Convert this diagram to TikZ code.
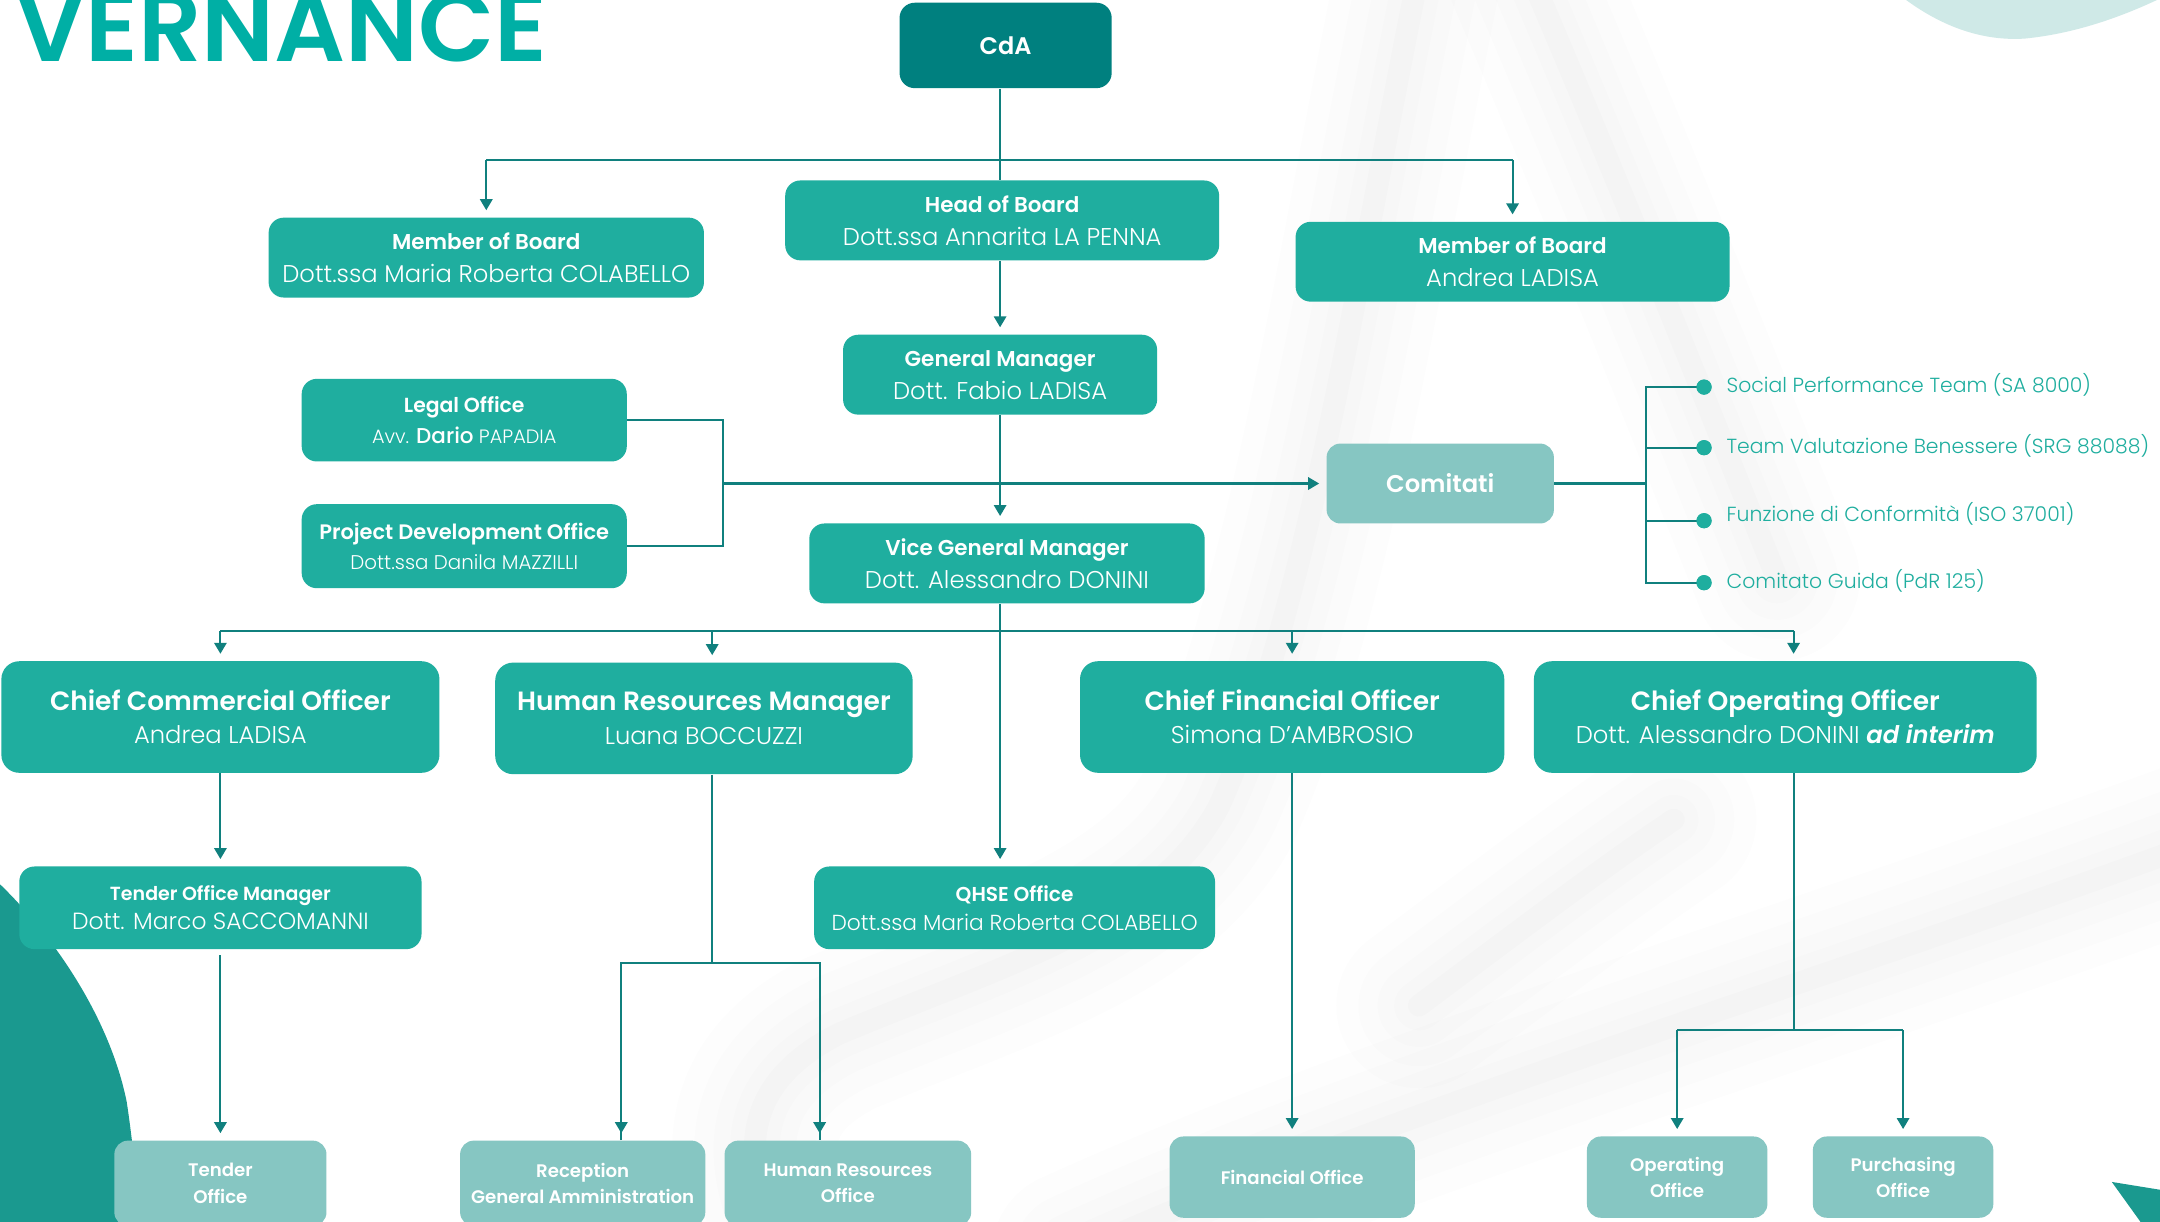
\documentclass[tikz,border=0pt]{standalone}
\usepackage{fontspec}
\IfFontExistsTF{Poppins SemiBold}{%
  \setmainfont{Poppins}[BoldFont={Poppins SemiBold},BoldItalicFont={Poppins SemiBold Italic}]}{%
  \setmainfont{Poppins}}
\IfFontExistsTF{Poppins Light}{\newfontfamily\lightfont{Poppins Light}}{\newcommand\lightfont{}}
\IfFontExistsTF{Poppins Medium}{\newfontfamily\mediumfont{Poppins Medium}}{\newcommand\mediumfont{}}
\usetikzlibrary{arrows.meta,calc}
\definecolor{tealdark}{HTML}{00807F}
\definecolor{tealbox}{HTML}{1FAE9F}
\definecolor{teallight}{HTML}{86C6C2}
\definecolor{tealline}{HTML}{10807E}
\definecolor{titlecol}{HTML}{00AFA5}
\definecolor{blobcol}{HTML}{CFE9E7}
\definecolor{blobdark}{HTML}{1A998F}
\newcommand\Tt[2]{{\fontsize{#1}{11pt}\selectfont\bfseries #2}}
\newcommand\Nn[2]{{\lightfont\fontsize{#1}{11pt}\selectfont #2}}
\begin{document}
\begin{tikzpicture}[x=0.5pt,y=-0.5pt,
  ln/.style={draw=tealline, line width=0.75pt},
  arr/.style={ln, -{Triangle[width=4.5pt,length=4pt]}, shorten >=2.5pt},
  sz/.style 2 args={minimum width=#1*0.5pt, minimum height=#2*0.5pt},
  b1/.style={fill=tealbox, rounded corners=5.5pt, text=white, align=center, inner sep=0pt},
  bl/.style={fill=teallight, rounded corners=5pt, text=white, align=center, inner sep=0pt},
  dot/.style={circle, fill=tealbox, inner sep=0pt, minimum size=5.5pt},
  lst/.style={anchor=west, text=tealbox, inner sep=0pt, font=\lightfont\fontsize{7.4}{9}\selectfont},
  swoosh/.style={black, line cap=round, line join=round},
]
% page
\fill[white] (0,0) rectangle (1568,887);
\useasboundingbox (0,0) rectangle (1568,887);
% background decorations
\begin{scope}
\clip (0,0) rectangle (1568,887);
\foreach \w/\o in {60/0.006,44/0.007,30/0.008,18/0.009,8/0.010}{
  \draw[swoosh, line width=\w pt, opacity=\o]
    (1030,-20) .. controls (985,200) and (950,440) .. (885,585)
    .. controls (840,670) and (730,700) .. (610,750)
    .. controls (530,790) and (540,850) .. (570,910);
  \draw[swoosh, line width=\w pt, opacity=\o]
    (1110,-20) .. controls (1170,120) and (1230,270) .. (1290,420);
  \draw[swoosh, line width=\w pt, opacity=\o]
    (780,910) .. controls (1000,810) and (1300,720) .. (1600,610);
  \draw[swoosh, line width=\w pt, opacity=\o]
    (1030,730) .. controls (1110,670) and (1170,625) .. (1215,595);
}
\fill[blobcol] (1381,-2) .. controls (1410,20) and (1440,30) .. (1470,28)
  .. controls (1510,24) and (1545,10) .. (1570,-2) -- cycle;
\fill[blobdark] (-2,640) .. controls (40,680) and (80,740) .. (92,800)
  .. controls (98,840) and (100,870) .. (100,890) -- (-2,890) -- cycle;
\fill[blobdark] (1533,858) -- (1570,864) -- (1570,890) -- (1556,890) -- cycle;
\end{scope}

% title
\node[anchor=base east, text=titlecol, inner sep=0pt,
  font=\fontsize{36}{36}\selectfont\bfseries] (title) at (398,45) {VERNANCE};

% nodes
\node[b1, fill=tealdark, sz={154}{62}] (cda) at (730,33) {\Tt{8.7}{CdA}};
\node[b1, sz={315}{58}] (hob) at (727.5,160)
  {\Tt{7.8}{Head of Board}\\\Nn{8.8}{Dott.ssa Annarita LA PENNA}};
\node[b1, sz={316}{58}] (mobL) at (353,187)
  {\Tt{7.8}{Member of Board}\\\Nn{8.8}{Dott.ssa Maria Roberta COLABELLO}};
\node[b1, sz={315}{58}] (mobR) at (1098,190)
  {\Tt{7.8}{Member of Board}\\\Nn{8.8}{Andrea LADISA}};
\node[b1, sz={228}{58}] (gm) at (726,272)
  {\Tt{7.8}{General Manager}\\\Nn{8.8}{Dott. Fabio LADISA}};
\node[b1, sz={236}{60}] (legal) at (337,305)
  {\Tt{7.4}{Legal Office}\\[-1pt]\Nn{7}{Avv. }{\mediumfont\fontsize{7.8}{10pt}\selectfont Dario}\Nn{7}{\ PAPADIA}};
\node[b1, sz={236}{61}] (pdo) at (337,396.5)
  {\Tt{7.6}{Project Development Office}\\[-1pt]\Nn{7.2}{Dott.ssa Danila MAZZILLI}};
\node[bl, sz={165}{58}] (comitati) at (1045.5,351) {\Tt{8.8}{Comitati}};
\node[b1, sz={287}{58}] (vgm) at (731,409)
  {\Tt{7.8}{Vice General Manager}\\\Nn{8.8}{Dott. Alessandro DONINI}};

\node[b1, rounded corners=6.5pt, sz={318}{81}] (cco) at (160,520.5)
  {\Tt{9.6}{Chief Commercial Officer}\\\Nn{8.8}{Andrea LADISA}};
\node[b1, rounded corners=6.5pt, sz={303}{81}] (hrm) at (511,521.5)
  {\Tt{9.6}{Human Resources Manager}\\\Nn{8.8}{Luana BOCCUZZI}};
\node[b1, rounded corners=6.5pt, sz={308}{81}] (cfo) at (938,520.5)
  {\Tt{9.6}{Chief Financial Officer}\\\Nn{8.8}{Simona D’AMBROSIO}};
\node[b1, rounded corners=6.5pt, sz={365}{81}] (coo) at (1296,520.5)
  {\Tt{9.6}{Chief Operating Officer}\\\Nn{8.8}{Dott. Alessandro DONINI {\normalfont\bfseries\itshape ad interim}}};

\node[b1, sz={292}{60}] (tom) at (160,659)
  {\Tt{6.9}{Tender Office Manager}\\[-1.5pt]\Nn{8.5}{Dott. Marco SACCOMANNI}};
\node[b1, sz={291}{60}] (qhse) at (736.5,659)
  {\Tt{7.3}{QHSE Office}\\[-1.5pt]\Nn{7.9}{Dott.ssa Maria Roberta COLABELLO}};

\node[bl, sz={154}{62}] (tender) at (160,859)
  {\Tt{6.6}{Tender}\\[-2.5pt]\Tt{6.6}{Office}};
\node[bl, sz={178}{62}] (recep) at (423,859)
  {\Tt{6.6}{Reception}\\[-2.5pt]\Tt{6.6}{General Amministration}};
\node[bl, sz={179}{62}] (hro) at (615.5,859)
  {\Tt{6.6}{Human Resources}\\[-2.5pt]\Tt{6.6}{Office}};
\node[bl, sz={178}{59}] (fin) at (938,854.5) {\Tt{6.6}{Financial Office}};
\node[bl, sz={131}{59}] (ops) at (1217.5,854.5)
  {\Tt{6.6}{Operating}\\[-2.5pt]\Tt{6.6}{Office}};
\node[bl, sz={131}{59}] (purch) at (1381.5,854.5)
  {\Tt{6.6}{Purchasing}\\[-2.5pt]\Tt{6.6}{Office}};

% comitati list
\node[dot] (d1) at (1237,281) {};
\node[dot] (d2) at (1237,325) {};
\node[dot] (d3) at (1237,378) {};
\node[dot] (d4) at (1237,423) {};
\node[lst] (t1) at (1253,279.5) {Social Performance Team (SA 8000)};
\node[lst] (t2) at (1253,323.5) {Team Valutazione Benessere (SRG 88088)};
\node[lst] (t3) at (1253,373) {Funzione di Conformità (ISO 37001)};
\node[lst] (t4) at (1253,422) {Comitato Guida (PdR 125)};

% connectors
\coordinate (sp) at (726,0);
\coordinate (h1) at (726,116);
\coordinate (lb) at (525,351);
\coordinate (cb) at (1195,351);
\coordinate (h2) at (726,458);
\coordinate (h3) at (517,699);
\coordinate (h4) at (1302,748);

\draw[ln] (cda.south -| sp) -- (hob.north -| sp);
\draw[ln] (mobL.north |- h1) -- (mobR.north |- h1);
\draw[arr] (mobL.north |- h1) -- (mobL.north);
\draw[arr] (mobR.north |- h1) -- (mobR.north);
\draw[arr] (hob.south -| sp) -- (gm.north -| sp);
\draw[arr] (gm.south -| sp) -- (vgm.north -| sp);
\draw[arr] (vgm.south -| sp) -- (qhse.north -| sp);

\draw[ln] (legal.east) -| (lb) |- (pdo.east);
\draw[arr] (lb) -- (comitati.west);

\draw[ln] (comitati.east) -- (cb);
\draw[ln] (d1.center) -| (cb) |- (d4.center);
\draw[ln] (cb |- d2) -- (d2.center);
\draw[ln] (cb |- d3) -- (d3.center);
\node[dot] at (d1) {};
\node[dot] at (d2) {};
\node[dot] at (d3) {};
\node[dot] at (d4) {};

\draw[ln] (cco.north |- h2) -- (h4 |- h2);
\draw[arr] (cco.north |- h2) -- (cco.north);
\draw[arr] (h3 |- h2) -- (h3 |- hrm.north);
\draw[arr] (cfo.north |- h2) -- (cfo.north);
\draw[arr] (h4 |- h2) -- (h4 |- coo.north);

\draw[arr] (cco.south) -- (tom.north);
\draw[arr] ([yshift=-2pt]tom.south) -- (tender.north);

\draw[ln] (h3 |- hrm.south) -- (h3);
\draw[ln] (recep.north -| 451,0) |- (h3) -| (hro.north -| 595,0);
\draw[arr] (h3 -| 451,0) -- (recep.north -| 451,0);
\draw[arr] (h3 -| 595,0) -- (hro.north -| 595,0);

\draw[arr] (cfo.south) -- (fin.north);

\draw[ln] (h4 |- coo.south) -- (h4);
\draw[ln] (h4 -| ops.north) -- (h4 -| purch.north);
\draw[arr] (h4 -| ops.north) -- (ops.north);
\draw[arr] (h4 -| purch.north) -- (purch.north);
\end{tikzpicture}
\end{document}
